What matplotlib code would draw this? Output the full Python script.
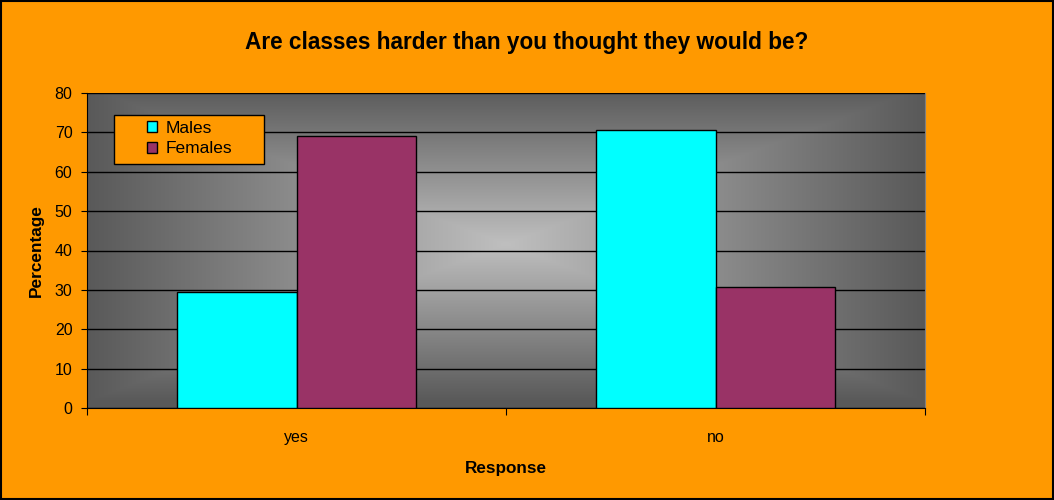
import numpy as np
import matplotlib
matplotlib.use("Agg")
import matplotlib.pyplot as plt
from matplotlib.patches import Rectangle

categories = ["yes", "no"]
males = [29.5, 70.5]
females = [69.2, 30.8]
series_names = ["Males", "Females"]
yticks = [0, 10, 20, 30, 40, 50, 60, 70, 80]

plt.rcParams['font.family'] = ['Liberation Sans', 'DejaVu Sans']

W, H = 1054, 500
ORANGE = "#FF9900"
fig = plt.figure(figsize=(W/100, H/100), dpi=100, facecolor=ORANGE)
ax = fig.add_axes([87/W, 1-408/H, (925-87)/W, (408-93)/H])
ax.set_facecolor("none")

# gradient background
nx, ny = 400, 200
xs = np.linspace(0, 1, nx)
ys = np.linspace(0, 1, ny)
X, Y = np.meshgrid(xs, ys)
d = np.maximum(np.abs(X-0.5)/0.5, np.abs(Y-0.52)/0.5)
d = np.clip(d, 0, 1)
light, dark = 0.75, 0.35
val = light + (dark-light)*d
img = np.dstack([val, val, val])
ax.imshow(img, extent=[0, 1, 0, 1], transform=ax.transAxes, aspect='auto', zorder=0, origin='lower')

x = np.arange(len(categories))
w = 0.286
ax.bar(x - w/2, males, w, color="#00FFFF", edgecolor="black", linewidth=1, zorder=3, label=series_names[0])
ax.bar(x + w/2, females, w, color="#993366", edgecolor="black", linewidth=1, zorder=3, label=series_names[1])

ax.set_xlim(-0.5, 1.5)
ax.set_ylim(0, 80)
ax.set_yticks(yticks)
ax.yaxis.grid(True, color="black", linewidth=1)
for gl in ax.get_ygridlines():
    gl.set_zorder(1)

ax.set_xticks([-0.5, 0.5, 1.5])
ax.set_xticklabels([])
ax.set_xticks(x, minor=True)
ax.set_xticklabels(categories, minor=True, fontsize=11.5)
ax.tick_params(axis='x', which='minor', length=0, pad=16)
ax.tick_params(axis='x', which='major', length=5, direction='out', color='black')
ax.tick_params(axis='y', length=4.5, direction='out', labelsize=11.5, pad=6)

ax.spines["top"].set_visible(False)
ax.spines["right"].set_color("#808080")
ax.spines["left"].set_color("black")
ax.spines["bottom"].set_color("black")

ax.set_xlabel("Response", fontsize=12.3, fontweight='bold', labelpad=11.5)
ax.set_ylabel("Percentage", fontsize=12.4, fontweight='bold', labelpad=8)
fig.text(0.5, 1-42/H, "Are classes harder than you thought they would be?",
         ha='center', va='center', fontsize=16.3, fontweight='bold')

# legend box
ax.add_patch(Rectangle((114/W, 1-164/H), 150/W, 49/H, transform=fig.transFigure,
                       facecolor=ORANGE, edgecolor="black", linewidth=1, zorder=5, clip_on=False))
leg = ax.legend(loc='upper left', bbox_to_anchor=(147/W, 1-121/H), bbox_transform=fig.transFigure,
                frameon=False, fontsize=12.5, handlelength=0.6, handleheight=0.6,
                borderpad=0, labelspacing=0.3, handletextpad=0.45, borderaxespad=0)
leg.set_zorder(6)

fig.patches.append(Rectangle((0.001, 0.002), 0.998, 0.996, transform=fig.transFigure,
                             fill=False, edgecolor="black", linewidth=1.5))

fig.savefig("out.png", dpi=100, facecolor=ORANGE)
